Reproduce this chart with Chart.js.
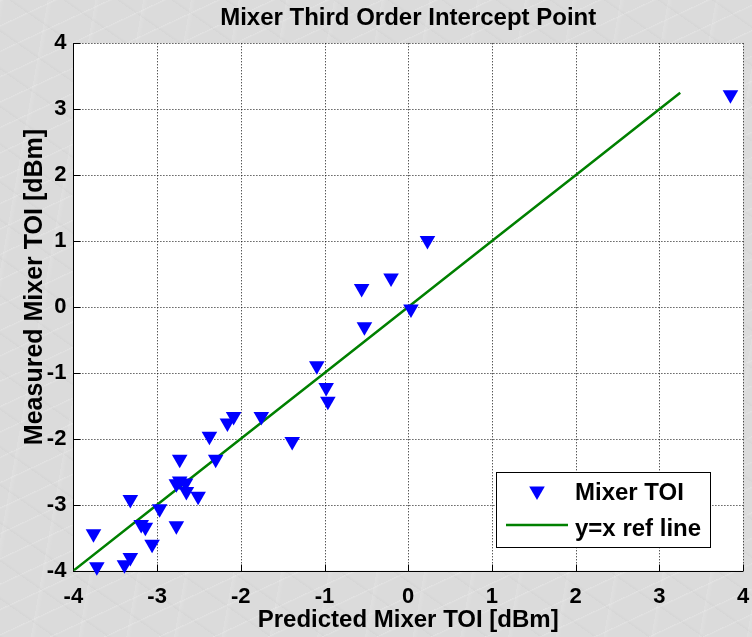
<!DOCTYPE html>
<html><head><meta charset="utf-8">
<script src="https://cdn.jsdelivr.net/npm/chart.js@4/dist/chart.umd.min.js"></script>
<style>
html,body{margin:0;padding:0;}
body{width:752px;height:637px;overflow:hidden;
background-color:#dbdbdb;
background-image:
 repeating-linear-gradient(155deg, rgba(255,255,255,0.22) 0px, rgba(255,255,255,0) 2px, rgba(255,255,255,0) 23px),
 repeating-linear-gradient(35deg, rgba(0,0,0,0.025) 0px, rgba(0,0,0,0) 3px, rgba(0,0,0,0) 31px),
 repeating-linear-gradient(100deg, rgba(255,255,255,0.12) 0px, rgba(255,255,255,0) 5px, rgba(255,255,255,0) 47px);
}
#wrap{position:relative;width:752px;height:637px;}
</style></head><body><div id="wrap"><canvas id="c" width="752" height="637"></canvas></div>
<script>
// ---- data ----
const predicted = [3.85, 0.23, -0.205, -0.556, 0.033, -0.523, -1.092, -0.98, -0.96, -1.755,
  -2.086, -2.16, -1.386, -2.375, -2.73, -2.30, -2.73, -2.77, -2.66, -2.65,
  -2.51, -3.32, -2.97, -3.19, -3.14, -2.77, -3.76, -3.06, -3.32, -3.39, -3.72];
const measured = [3.22, 1.01, 0.44, 0.28, -0.03, -0.30, -0.89, -1.22, -1.43, -1.66,
  -1.66, -1.76, -2.04, -1.96, -2.31, -2.31, -2.64, -2.68, -2.67, -2.80,
  -2.87, -2.92, -3.06, -3.30, -3.34, -3.32, -3.44, -3.60, -3.80, -3.91, -3.94];
const refX = [-4, -3, -2, -1, 0, 1, 2, 3, 3.25];
const refY = [-4, -3, -2, -1, 0, 1, 2, 3, 3.25];
const tickValues = [-4, -3, -2, -1, 0, 1, 2, 3, 4];
const seriesNames = ['Mixer TOI', 'y=x ref line'];
const chartTitle = 'Mixer Third Order Intercept Point';
const xTitle = 'Predicted Mixer TOI [dBm]';
const yTitle = 'Measured Mixer TOI [dBm]';

const FONT = "'Liberation Sans', Arial, Helvetica, sans-serif";
const BLUE = '#0000ff';
const GREEN = '#008000';

const scatterData = predicted.map((x, i) => ({x: x, y: measured[i]}));
const lineData = refX.map((x, i) => ({x: x, y: refY[i]}));

const plotPlugin = {
  id: 'plotDeco',
  afterLayout(chart) {
    const t = chart.titleBlock;
    if (t) {
      t.left = chart.chartArea.left;
      t.right = chart.chartArea.right;
      t.width = t.right - t.left;
    }
    const ys = chart.scales.y;
    if (ys && typeof ys.drawTitle === 'function' && !ys._shiftedTitle) {
      const orig = ys.drawTitle;
      ys.drawTitle = function () {
        const c = this.ctx;
        c.save();
        c.translate(0, -20);
        orig.apply(this, arguments);
        c.restore();
      };
      ys._shiftedTitle = true;
    }
  },
  beforeDraw(chart) {
    const {ctx, chartArea: a} = chart;
    ctx.save();
    ctx.fillStyle = '#ffffff';
    ctx.fillRect(a.left, a.top, a.right - a.left, a.bottom - a.top);
    ctx.restore();
  },
  beforeDatasetsDraw(chart) {
    const {ctx, chartArea: a, scales} = chart;
    const xs = scales.x, ys = scales.y;
    ctx.save();
    ctx.strokeStyle = '#111';
    ctx.lineWidth = 1;
    ctx.setLineDash([1, 2]);
    tickValues.forEach(v => {
      const px = Math.round(xs.getPixelForValue(v)) + 0.5;
      ctx.beginPath(); ctx.moveTo(px, a.top); ctx.lineTo(px, a.bottom); ctx.stroke();
      const py = Math.round(ys.getPixelForValue(v)) + 0.5;
      ctx.beginPath(); ctx.moveTo(a.left, py); ctx.lineTo(a.right, py); ctx.stroke();
    });
    ctx.setLineDash([]);
    ctx.strokeStyle = '#000';
    const L = Math.round(a.left) + 0.5, B = Math.round(a.bottom) + 0.5;
    ctx.beginPath(); ctx.moveTo(L, a.top); ctx.lineTo(L, B); ctx.lineTo(a.right, B); ctx.stroke();
    tickValues.forEach(v => {
      const px = Math.round(xs.getPixelForValue(v)) + 0.5;
      ctx.beginPath(); ctx.moveTo(px, B); ctx.lineTo(px, B - 7); ctx.stroke();
      const py = Math.round(ys.getPixelForValue(v)) + 0.5;
      ctx.beginPath(); ctx.moveTo(L, py); ctx.lineTo(L + 7, py); ctx.stroke();
    });
    ctx.restore();
  },
  afterDraw(chart) {
    const {ctx} = chart;
    const bx = 496.5, by = 472.5, bw = 214, bh = 75;
    ctx.save();
    ctx.fillStyle = '#fff';
    ctx.fillRect(bx, by, bw, bh);
    ctx.strokeStyle = '#000';
    ctx.lineWidth = 1;
    ctx.strokeRect(bx, by, bw, bh);
    ctx.fillStyle = BLUE;
    ctx.strokeStyle = BLUE;
    Chart.helpers.drawPoint(ctx, {pointStyle: 'triangle', rotation: 180, radius: 9, borderWidth: 0}, 537, 491);
    ctx.strokeStyle = GREEN;
    ctx.lineWidth = 2.5;
    ctx.beginPath(); ctx.moveTo(506, 525); ctx.lineTo(568, 525); ctx.stroke();
    ctx.fillStyle = '#000';
    ctx.font = 'bold 24px ' + FONT;
    ctx.textAlign = 'left';
    ctx.textBaseline = 'middle';
    ctx.fillText(seriesNames[0], 575, 493);
    ctx.fillText(seriesNames[1], 575, 529);
    ctx.restore();
  }
};

new Chart(document.getElementById('c'), {
  type: 'scatter',
  data: {
    datasets: [
      {label: seriesNames[0], data: scatterData, pointStyle: 'triangle', rotation: 180,
       pointRadius: 9, pointHoverRadius: 9, backgroundColor: BLUE, borderColor: BLUE, borderWidth: 0,
       clip: false, order: 1},
      {label: seriesNames[1], data: lineData, showLine: true, borderColor: GREEN, backgroundColor: GREEN,
       borderWidth: 2.5, pointRadius: 0, tension: 0, order: 2}
    ]
  },
  options: {
    responsive: false,
    animation: false,
    devicePixelRatio: 1,
    layout: {padding: {left: 0, right: 8, top: 0, bottom: 0}},
    plugins: {
      legend: {display: false},
      tooltip: {enabled: false},
      title: {display: true, text: chartTitle, color: '#000',
        font: {family: FONT, size: 24, weight: 'bold'}, padding: {top: 4.4, bottom: 10.1}}
    },
    scales: {
      x: {
        type: 'linear', min: -4, max: 4,
        ticks: {stepSize: 1, color: '#000', font: {family: FONT, size: 22, weight: 'bold'}, padding: 13, maxRotation: 0},
        grid: {display: false, drawTicks: false},
        border: {display: false},
        title: {display: true, text: xTitle, color: '#000', font: {family: FONT, size: 24, weight: 'bold'}, padding: {top: 0, bottom: 2.6}},
        afterFit(s) { s.height = 66.3; s.paddingLeft = 0; s.paddingRight = 0; }
      },
      y: {
        type: 'linear', min: -4, max: 4,
        ticks: {stepSize: 1, color: '#000', font: {family: FONT, size: 22, weight: 'bold'}, padding: 7},
        grid: {display: false, drawTicks: false},
        border: {display: false},
        title: {display: true, text: yTitle, color: '#000', font: {family: FONT, size: 25, weight: 'bold'}, padding: {top: 20, bottom: 0}},
        afterFit(s) { s.width = 73.4; s.paddingTop = 0; s.paddingBottom = 0; }
      }
    }
  },
  plugins: [plotPlugin]
});
</script>
</body></html>
